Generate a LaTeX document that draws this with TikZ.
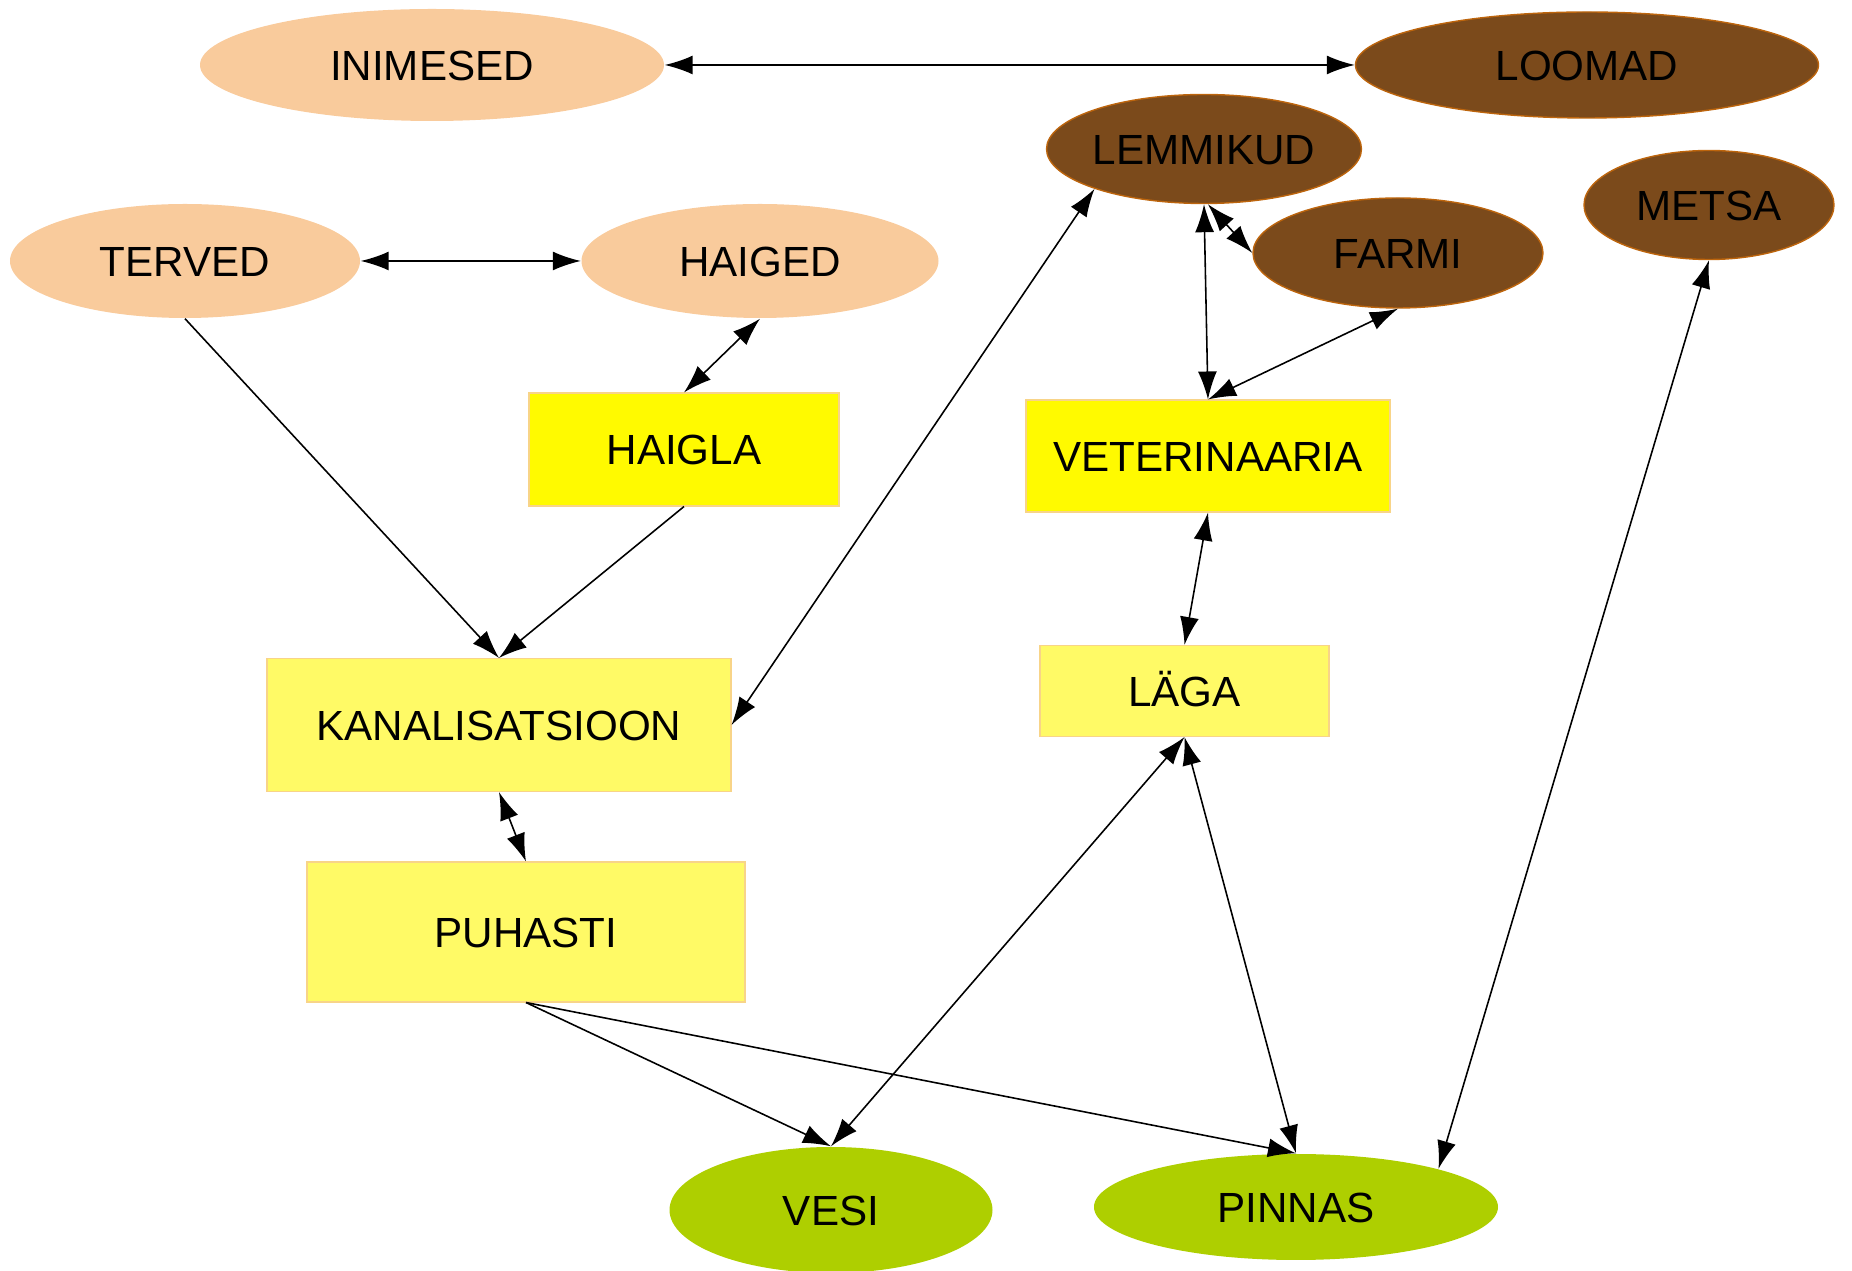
\documentclass[tikz,border=0pt]{standalone}
\usepackage{fontspec}
\setmainfont{Liberation Sans}
\usetikzlibrary{shapes.geometric}
\usetikzlibrary{arrows.meta}

\definecolor{peach}{HTML}{F9CB9C}
\definecolor{pruun}{HTML}{7B4A1B}
\definecolor{kollane}{HTML}{FFFA00}
\definecolor{helekollane}{HTML}{FFFA66}
\definecolor{roheline}{HTML}{AECF00}
\definecolor{serv}{HTML}{F8D488}

\begin{document}
\begin{tikzpicture}[
    font=\fontsize{12}{14}\selectfont,
    >={Latex[length=2.8mm,width=1.9mm]},
    every node/.style={inner sep=0pt,text height=8.6pt,text depth=0pt},
    inim/.style={ellipse,fill=peach},
    loom/.style={ellipse,fill=pruun,draw=orange!50!pruun,line width=0.4pt},
    maa/.style={ellipse,fill=roheline},
    asutus/.style={rectangle,fill=kollane,draw=serv,line width=0.3pt},
    kast/.style={rectangle,fill=helekollane,draw=serv,line width=0.3pt},
    seos/.style={<->,line width=0.45pt},
    voog/.style={->,line width=0.45pt}]
    \useasboundingbox (0,0) rectangle (18.52,-12.71);

    \node[inim,minimum width=4.64cm,minimum height=1.12cm] (inimesed) at (4.32,-0.65) {INIMESED};
    \node[loom,minimum width=4.63cm,minimum height=1.06cm] (loomad) at (15.87,-0.65) {LOOMAD};
    \node[inim,minimum width=3.50cm,minimum height=1.14cm] (terved) at (1.85,-2.61) {TERVED};
    \node[inim,minimum width=3.57cm,minimum height=1.14cm] (haiged) at (7.60,-2.61) {HAIGED};
    \node[loom,minimum width=3.15cm,minimum height=1.09cm] (lemmikud) at (12.04,-1.49) {LEMMIKUD};
    \node[loom,minimum width=2.50cm,minimum height=1.09cm] (metsa) at (17.09,-2.05) {METSA};
    \node[loom,minimum width=2.90cm,minimum height=1.10cm] (farmi) at (13.98,-2.53) {FARMI};
    \node[asutus,minimum width=3.10cm,minimum height=1.13cm] (haigla) at (6.84,-4.495) {HAIGLA};
    \node[asutus,minimum width=3.64cm,minimum height=1.12cm] (vet) at (12.08,-4.56) {VETERINAARIA};
    \node[kast,minimum width=4.64cm,minimum height=1.33cm] (kanal) at (4.99,-7.25) {KANALISATSIOON};
    \node[kast,minimum width=2.89cm,minimum height=0.91cm] (laga) at (11.845,-6.91) {LÄGA};
    \node[kast,minimum width=4.38cm,minimum height=1.40cm] (puhasti) at (5.26,-9.32) {PUHASTI};
    \node[maa,minimum width=3.23cm,minimum height=1.26cm] (vesi) at (8.31,-12.10) {VESI};
    \node[maa,minimum width=4.04cm,minimum height=1.06cm] (pinnas) at (12.96,-12.07) {PINNAS};

    \draw[seos] (inimesed.east) -- (loomad.west);
    \draw[seos] (terved.east) -- (haiged.west);
    \draw[seos] (haiged.south) -- (haigla.north);
    \draw[voog] (terved.south) -- (kanal.north);
    \draw[voog] (haigla.south) -- (kanal.north);
    \draw[seos] (kanal.east) -- (lemmikud.200);
    \draw[seos] (kanal.south) -- (puhasti.north);
    \draw[voog] (puhasti.south) -- (vesi.north);
    \draw[voog] (puhasti.south) -- (pinnas.north);
    \draw[seos] (lemmikud.south) -- (vet.north);
    \draw[seos] (lemmikud.-86) -- (farmi.west);
    \draw[seos] (farmi.south) -- (vet.north);
    \draw[seos] (vet.south) -- (laga.north);
    \draw[seos] (laga.south) -- (vesi.north);
    \draw[seos] (laga.south) -- (pinnas.north);
    \draw[seos] (metsa.south) -- (pinnas.15);
\end{tikzpicture}
\end{document}
